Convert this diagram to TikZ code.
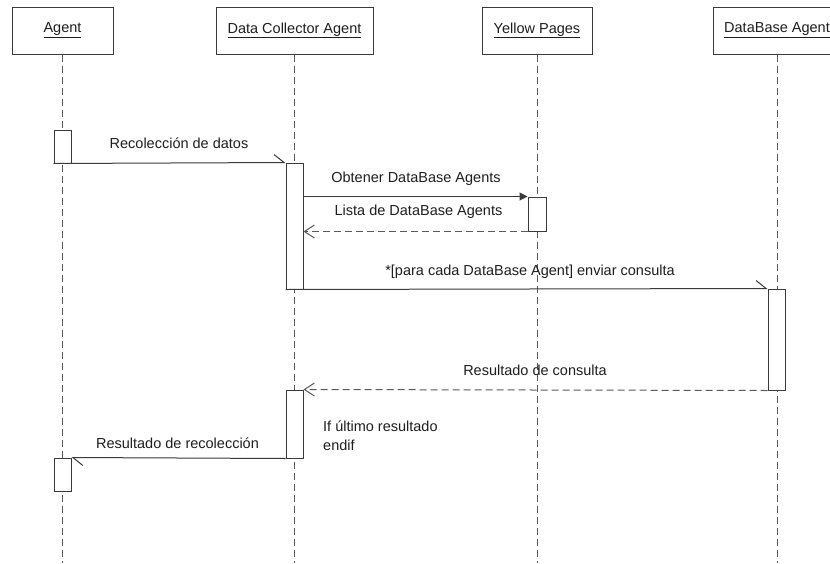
\documentclass[tikz,border=0pt]{standalone}
\usepackage{fontspec}
\setmainfont{Liberation Sans}
\usetikzlibrary{arrows.meta}
\definecolor{ink}{HTML}{1E1E1E}
\definecolor{lineclr}{HTML}{3A3A3A}
\definecolor{dashclr}{HTML}{5A5A5A}
\begin{document}
\begin{tikzpicture}[x=1pt,y=-1pt,
  every node/.style={font=\fontsize{14.5}{18}\selectfont, text=ink, inner sep=0pt},
  header/.style={draw=lineclr, line width=1pt, minimum height=47pt, fill=white},
  lifeline/.style={draw=dashclr, line width=1pt, dash pattern=on 7pt off 4pt},
  actbox/.style={draw=lineclr, line width=1pt, fill=white, minimum width=17pt},
  msg/.style={draw=lineclr, line width=1pt},
  reply/.style={draw=dashclr, line width=1pt, dash pattern=on 7pt off 4pt, -{Straight Barb[length=10pt,width=13pt]}},
  halfarrow/.style={-{Straight Barb[harpoon,length=10pt,width=16pt]}},
  lbl/.style={anchor=base}
]
\clip (0,0) rectangle (830,563);
\fill[white] (0,0) rectangle (830,563);

% headers
\node[header, minimum width=101pt] (agent) at (62.5,30.5) {\underline{Agent}};
\node[header, minimum width=157pt] (dca) at (294.5,30.5) {\underline{Data Collector Agent}};
\node[header, minimum width=110pt] (yp) at (537,30.5) {\underline{Yellow Pages}};
\node[header, minimum width=128pt] (dba) at (777,30.5) {\underline{DataBase Agent}};

% lifeline ends
\coordinate (agentEnd) at (62.5,563);
\coordinate (dcaEnd) at (294.5,563);
\coordinate (ypEnd) at (537,563);
\coordinate (dbaEnd) at (777,563);

\draw[lifeline] (agent.south) -- (agentEnd);
\draw[lifeline] (dca.south) -- (dcaEnd);
\draw[lifeline] (yp.south) -- (ypEnd);
\draw[lifeline] (dba.south) -- (dbaEnd);

% activation boxes
\node[actbox, minimum height=33pt] (a1) at (62.5,146.5) {};
\node[actbox, minimum height=126pt] (dc1) at (294.5,226) {};
\node[actbox, minimum width=18pt, minimum height=34pt] (yp1) at (537,214) {};
\node[actbox, minimum height=101pt] (db1) at (776.5,339.5) {};
\node[actbox, minimum height=68pt] (dc2) at (294.5,424) {};
\node[actbox, minimum height=33pt] (a2) at (62.5,474.5) {};

% messages
\draw[msg, halfarrow] (a1.south west) -- (dc1.north west);
\draw[msg, -{Triangle[length=8pt,width=8pt]}] (dc1.east |- yp1.north) -- (yp1.north west);
\draw[reply] (yp1.south west) -- (dc1.east |- yp1.south);
\draw[msg, halfarrow] (dc1.south west) -- (db1.north west);
\draw[reply] (db1.south west) -- (dc2.north east);
\draw[msg, halfarrow] (dc2.south west) -- (a2.north east);

% labels
\node[lbl] (l1) at (179,148) {Recolección de datos};
\node[lbl] (l2) at (416,182) {Obtener DataBase Agents};
\node[lbl] (l3) at (418.5,215) {Lista de DataBase Agents};
\node[lbl] (l4) at (530,275) {*[para cada DataBase Agent] enviar consulta};
\node[lbl] (l5) at (535,375) {Resultado de consulta};
\node[lbl] (l6) at (177.5,448) {Resultado de recolección};
\node[anchor=base west] (l7) at (323,431.5) {If último resultado};
\node[anchor=base west] (l8) at (323,450) {endif};
\end{tikzpicture}
\end{document}
